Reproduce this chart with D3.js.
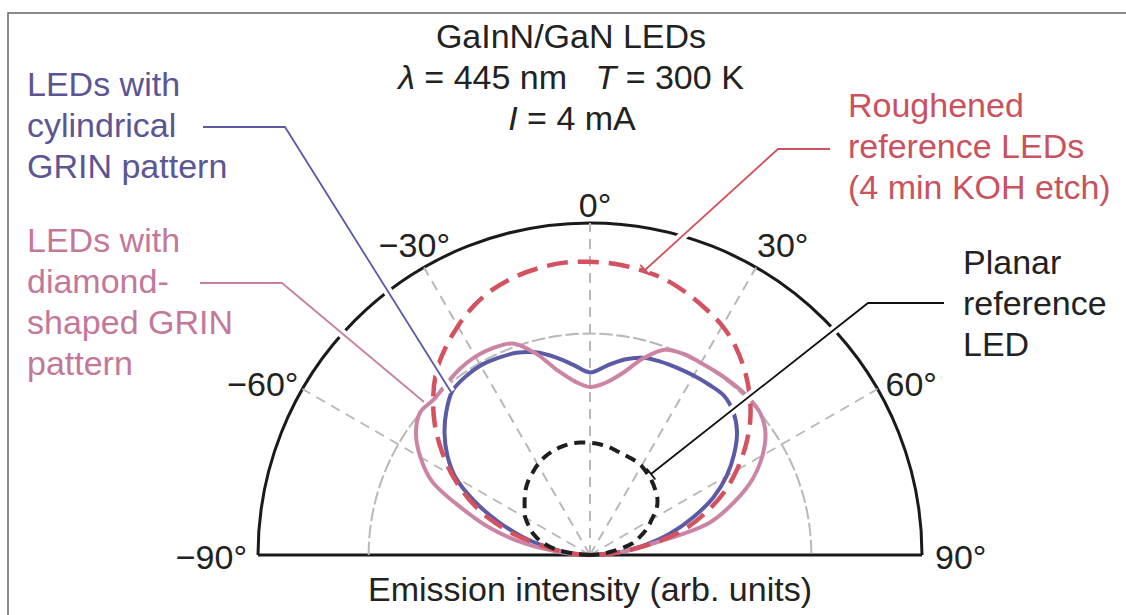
<!DOCTYPE html>
<html>
<head>
<meta charset="utf-8">
<script src="https://cdn.jsdelivr.net/npm/d3@7"></script>
<style>
  body { margin: 0; background: #fff; }
  text { font-family: "Liberation Sans", Arial, sans-serif; }
</style>
</head>
<body>
<svg id="chart" width="1126" height="615"></svg>
<script>
// emission angle (deg, 0 = normal) and relative intensity
const angles = [-90, -85, -80, -75, -70, -65, -60, -55, -50, -45, -40, -35, -30, -25, -20, -15, -10, -5,
  0, 5, 10, 15, 20, 25, 30, 35, 40, 45, 50, 55, 60, 65, 70, 75, 80, 85, 90]

const roughened = [0, 0.06, 0.125, 0.23, 0.325, 0.405, 0.478, 0.545, 0.61, 0.668, 0.72, 0.76, 0.796, 0.828, 0.852,
  0.868, 0.878, 0.884, 0.883, 0.88, 0.872, 0.861, 0.842, 0.82, 0.797, 0.765, 0.725, 0.68, 0.63, 0.572, 0.51,
  0.445, 0.37, 0.29, 0.18, 0.08, 0]

const cylindrical = [0, 0.06, 0.125, 0.21, 0.295, 0.385, 0.468, 0.525, 0.572, 0.612, 0.645, 0.655, 0.659, 0.655,
  0.648, 0.632, 0.605, 0.575, 0.55, 0.572, 0.598, 0.615, 0.62, 0.622, 0.624, 0.626, 0.627, 0.61, 0.578, 0.53,
  0.475, 0.41, 0.33, 0.25, 0.165, 0.09, 0]

const diamond = [0, 0.08, 0.2, 0.31, 0.41, 0.525, 0.59, 0.64, 0.668, 0.664, 0.673, 0.684, 0.69, 0.688, 0.678,
  0.628, 0.565, 0.525, 0.506, 0.52, 0.555, 0.612, 0.658, 0.668, 0.668, 0.67, 0.672, 0.673, 0.668, 0.645, 0.6,
  0.54, 0.46, 0.37, 0.18, 0.085, 0]

const planar = [0, 0.05, 0.11, 0.15, 0.18, 0.202, 0.225, 0.24, 0.257, 0.275, 0.29, 0.302, 0.315, 0.325, 0.332,
  0.337, 0.34, 0.34, 0.338, 0.335, 0.33, 0.323, 0.318, 0.315, 0.31, 0.3, 0.29, 0.278, 0.265, 0.245, 0.215,
  0.19, 0.16, 0.13, 0.075, 0.035, 0]

const gridAngles = [-60, -30, 0, 30, 60]
const gridRadii = [2 / 3]
const angleTicks = [-90, -60, -30, 0, 30, 60, 90]

const svg = d3.select('#chart')
const cx = 590
const cy = 555
const R = 332

const r = d3.scaleLinear().domain([0, 1]).range([0, R])
const a = d3.scaleLinear().domain([-90, 90]).range([-Math.PI / 2, Math.PI / 2])

function polar (deg, rad) {
  return [cx + rad * Math.sin(a(deg)), cy - rad * Math.cos(a(deg))]
}

// frame
svg.append('rect')
  .attr('x', 8).attr('y', 13).attr('width', 1200).attr('height', 700)
  .attr('fill', 'none').attr('stroke', '#666').attr('stroke-width', 1.5)

const g = svg.append('g').attr('transform', `translate(${cx},${cy})`)

// outer arc and baseline
const halfDisc = d3.arc().innerRadius(R).outerRadius(R).startAngle(a(-90)).endAngle(a(90))
g.append('path').attr('d', halfDisc()).attr('fill', 'none').attr('stroke', '#1a1a1a').attr('stroke-width', 3)
g.append('line').attr('x1', -R).attr('x2', R).attr('y1', 0).attr('y2', 0)
  .attr('stroke', '#1a1a1a').attr('stroke-width', 3)

// leader lines: [text side, elbow, curve point]
const leaders = [
  { color: '#5a5aa6', pts: [[203, 127], [285, 127], [451, 392]], tick: false },
  { color: '#c97fa0', pts: [[200, 283], [282, 283], [424, 402]], tick: false },
  { color: '#d0525e', pts: [[830, 149], [778, 149], [645, 270]], tick: true },
  { color: '#111', pts: [[944, 303], [868, 303], [651, 474]], tick: true }
]

// white halo so leaders break the outer arc
leaders.forEach(function (l) {
  svg.append('polyline').attr('points', l.pts.map(p => p.join(',')).join(' '))
    .attr('fill', 'none').attr('stroke', '#fff').attr('stroke-width', 9)
})

// grid
gridRadii.forEach(function (gr) {
  const arc = d3.arc().innerRadius(r(gr)).outerRadius(r(gr)).startAngle(a(-90)).endAngle(a(90))
  g.append('path').attr('d', arc()).attr('fill', 'none')
    .attr('stroke', '#b8b8b8').attr('stroke-width', 2).attr('stroke-dasharray', '10,7')
})
gridAngles.forEach(function (d) {
  const p = polar(d, R)
  g.append('line').attr('x1', 0).attr('y1', 0).attr('x2', p[0] - cx).attr('y2', p[1] - cy)
    .attr('stroke', '#b8b8b8').attr('stroke-width', 2).attr('stroke-dasharray', '10,7')
})

// angle labels
const labelLayout = {
  '-90': { anchor: 'end', dx: -11, dy: 14 },
  '-60': { anchor: 'end', dx: -4, dy: 7 },
  '-30': { anchor: 'end', dx: 26, dy: -10 },
  0: { anchor: 'middle', dx: 5, dy: -6 },
  30: { anchor: 'start', dx: 1, dy: -10 },
  60: { anchor: 'start', dx: 8, dy: 7 },
  90: { anchor: 'start', dx: 13, dy: 14 }
}
angleTicks.forEach(function (d) {
  const p = polar(d, R)
  const lay = labelLayout[d]
  svg.append('text')
    .attr('x', p[0] + lay.dx).attr('y', p[1] + lay.dy)
    .attr('text-anchor', lay.anchor)
    .attr('font-size', 34).attr('fill', '#222')
    .text((d < 0 ? '\u2212' + (-d) : d) + '\u00b0')
})

// curves
const radial = d3.lineRadial()
  .angle(d => a(d[0]))
  .radius(d => r(d[1]))
  .curve(d3.curveCatmullRom)

function series (vals) { return angles.map((d, i) => [d, vals[i]]) }

g.append('path').attr('d', radial(series(cylindrical)))
  .attr('fill', 'none').attr('stroke', '#5a5aa6').attr('stroke-width', 4)
g.append('path').attr('d', radial(series(diamond)))
  .attr('fill', 'none').attr('stroke', '#cc84a4').attr('stroke-width', 4)
g.append('path').attr('d', radial(series(roughened)))
  .attr('fill', 'none').attr('stroke', '#d4525f').attr('stroke-width', 4.5)
  .attr('stroke-dasharray', '21,10')
g.append('path').attr('d', radial(series(planar)))
  .attr('fill', 'none').attr('stroke', '#1e1e1e').attr('stroke-width', 4)
  .attr('stroke-dasharray', '11,7')

// leaders on top
leaders.forEach(function (l) {
  svg.append('polyline').attr('points', l.pts.map(p => p.join(',')).join(' '))
    .attr('fill', 'none').attr('stroke', l.color).attr('stroke-width', 1.8)
  if (l.tick) {
    const p1 = l.pts[1]
    const p2 = l.pts[2]
    const len = Math.hypot(p2[0] - p1[0], p2[1] - p1[1])
    const nx = -(p2[1] - p1[1]) / len * 7
    const ny = (p2[0] - p1[0]) / len * 7
    svg.append('line')
      .attr('x1', p2[0] - nx).attr('y1', p2[1] - ny).attr('x2', p2[0] + nx).attr('y2', p2[1] + ny)
      .attr('stroke', l.color).attr('stroke-width', 1.8)
  }
})

// text blocks
function block (x, y, lines, color, anchor) {
  const t = svg.append('text').attr('x', x).attr('y', y)
    .attr('font-size', 34).attr('fill', color).attr('text-anchor', anchor || 'start')
  lines.forEach(function (ln, i) {
    t.append('tspan').attr('x', x).attr('dy', i === 0 ? 0 : 41).text(ln)
  })
}

block(27, 96, ['LEDs with', 'cylindrical', 'GRIN pattern'], '#5c5594')
block(27, 252, ['LEDs with', 'diamond-', 'shaped GRIN', 'pattern'], '#c3789a')
block(848, 117, ['Roughened', 'reference LEDs', '(4 min KOH etch)'], '#c9525e')
block(963, 274, ['Planar', 'reference', 'LED'], '#222')

// title
const title = svg.append('text').attr('x', 571).attr('y', 48)
  .attr('font-size', 34).attr('fill', '#222').attr('text-anchor', 'middle')
title.text('GaInN/GaN LEDs')

const l2 = svg.append('text').attr('x', 571).attr('y', 89)
  .attr('font-size', 34).attr('fill', '#222').attr('text-anchor', 'middle')
  .attr('xml:space', 'preserve')
l2.append('tspan').attr('font-style', 'italic').text('\u03bb')
l2.append('tspan').text(' = 445 nm   ')
l2.append('tspan').attr('font-style', 'italic').text('T')
l2.append('tspan').text(' = 300 K')

const l3 = svg.append('text').attr('x', 572).attr('y', 130)
  .attr('font-size', 34).attr('fill', '#222').attr('text-anchor', 'middle')
l3.append('tspan').attr('font-style', 'italic').text('I')
l3.append('tspan').text(' = 4 mA')

svg.append('text').attr('x', 590).attr('y', 601)
  .attr('font-size', 34).attr('fill', '#222').attr('text-anchor', 'middle')
  .text('Emission intensity (arb. units)')
</script>
</body>
</html>
